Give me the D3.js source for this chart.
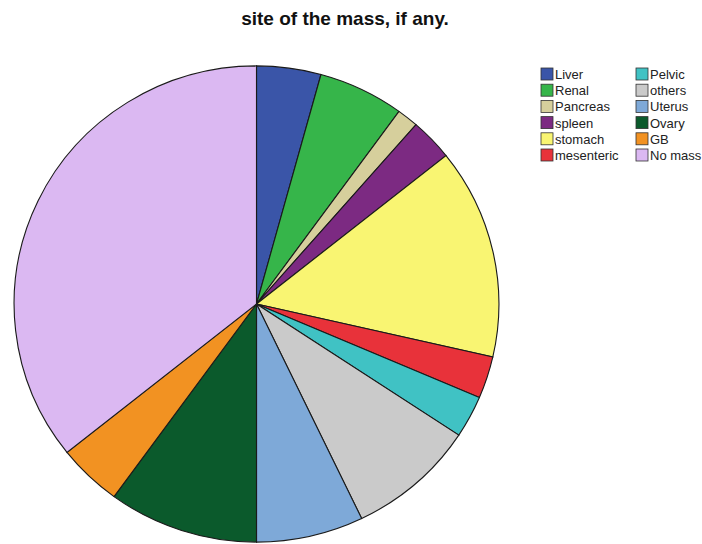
<!DOCTYPE html>
<html>
<head>
<meta charset="utf-8">
<script src="https://cdn.jsdelivr.net/npm/d3@7"></script>
<style>
  body { margin: 0; background: #fff; }
  text { font-family: "Liberation Sans", Arial, sans-serif; }
</style>
</head>
<body>
<script>
// categories in drawing order (clockwise from 12 o'clock)
const sites = ["Liver", "Renal", "Pancreas", "spleen", "stomach", "mesenteric",
               "Pelvic", "others", "Uterus", "Ovary", "GB", "No mass"];
// case counts
const counts = [3, 4, 1, 2, 10, 2, 2, 6, 5, 7, 3, 25];
const colors = ["#3a55a8", "#36b54a", "#d6cf9c", "#7c2a82", "#f9f572", "#e8323a",
                "#40c2c4", "#cacaca", "#7ea9d8", "#0b5a2c", "#f29222", "#dbb8f2"];

const width = 702, height = 544;

const svg = d3.select("body").append("svg")
    .attr("width", width)
    .attr("height", height);

// title
svg.append("text")
    .attr("x", 345)
    .attr("y", 25)
    .attr("text-anchor", "middle")
    .attr("font-size", 19)
    .attr("font-weight", "bold")
    .attr("fill", "#111")
    .text("site of the mass, if any.");

// pie (picture is a little squashed vertically)
const radius = 240;
const g = svg.append("g")
    .attr("transform", "translate(256.5,304) scale(1.01,0.992)");

const pie = d3.pie().sort(null).value(d => d);
const arc = d3.arc().innerRadius(0).outerRadius(radius);

g.selectAll("path")
    .data(pie(counts))
    .enter().append("path")
    .attr("d", arc)
    .attr("fill", (d, i) => colors[i])
    .attr("stroke", "#1a1a1a")
    .attr("stroke-width", 1.1);

// legend, two columns of six
const legend = svg.append("g");
const rowY = d3.scalePoint().domain(d3.range(6)).range([74, 155]);
const colX = [541, 636];

const item = legend.selectAll("g")
    .data(sites)
    .enter().append("g")
    .attr("transform", (d, i) => `translate(${colX[Math.floor(i / 6)]},${rowY(i % 6)})`);

item.append("rect")
    .attr("x", 0)
    .attr("y", -6)
    .attr("width", 12)
    .attr("height", 12)
    .attr("fill", (d, i) => colors[i])
    .attr("stroke", "#333")
    .attr("stroke-width", 0.8);

item.append("text")
    .attr("x", 14)
    .attr("y", 5)
    .attr("font-size", 13)
    .attr("fill", "#222")
    .text(d => d);
</script>
</body>
</html>
